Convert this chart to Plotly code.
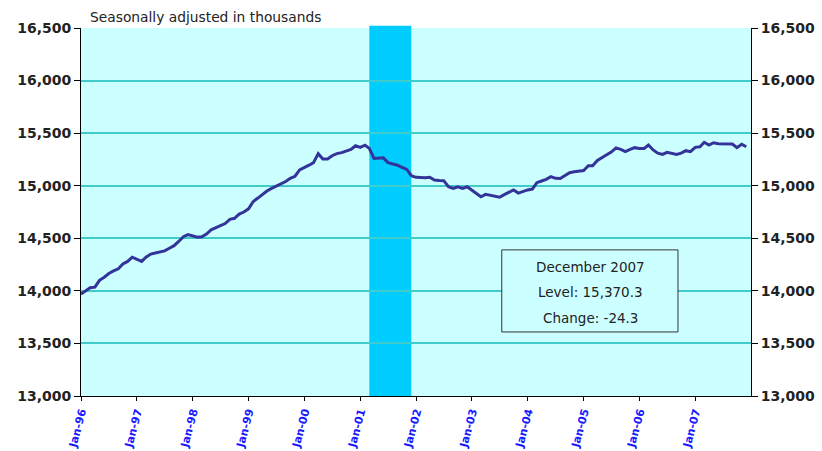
import pandas as pd
import plotly.graph_objects as go

# Retail-trade style employment series, thousands, seasonally adjusted (Jan-96 .. Dec-07)
MONTHS = pd.date_range("1996-01-01", "2007-12-01", freq="MS")
LEVELS = [
    13970, 14000, 14030, 14035, 14100, 14130, 14165, 14190, 14210, 14255, 14280, 14320,  # 1996
    14300, 14280, 14320, 14350, 14360, 14370, 14380, 14405, 14430, 14470, 14515, 14535,  # 1997
    14520, 14510, 14515, 14540, 14580, 14600, 14620, 14640, 14680, 14690, 14730, 14750,  # 1998
    14780, 14850, 14880, 14920, 14950, 14975, 14995, 15015, 15040, 15070, 15090, 15150,  # 1999
    15170, 15195, 15220, 15305, 15255, 15255, 15285, 15305, 15315, 15330, 15345, 15380,  # 2000
    15365, 15385, 15355, 15260, 15265, 15265, 15220, 15210, 15195, 15175, 15155, 15095,  # 2001
    15080, 15078, 15075, 15080, 15055, 15050, 15048, 14990, 14975, 14990, 14975, 14990,  # 2002
    14960, 14925, 14895, 14918, 14910, 14900, 14890, 14915, 14935, 14960, 14930, 14945,  # 2003
    14960, 14968, 15029, 15045, 15061, 15086, 15070, 15068, 15095, 15124, 15133, 15138,  # 2004
    15145, 15190, 15190, 15240, 15270, 15295, 15320, 15360, 15345, 15325, 15345, 15362,  # 2005
    15355, 15355, 15387, 15340, 15310, 15298, 15318, 15310, 15298, 15310, 15333, 15324,  # 2006
    15365, 15371, 15413, 15387, 15409, 15400, 15397, 15397, 15397, 15362, 15394.6, 15370.3,  # 2007
]

RECESSION = ("2001-03-01", "2001-12-01")

X_TICKS = pd.date_range("1996-01-01", "2007-01-01", freq="YS")
X_TICK_TEXT = ["Jan-96", "Jan-97", "Jan-98", "Jan-99", "Jan-00", "Jan-01",
               "Jan-02", "Jan-03", "Jan-04", "Jan-05", "Jan-06", "Jan-07"]
Y_TICKS = [13000, 13500, 14000, 14500, 15000, 15500, 16000, 16500]
Y_TICK_TEXT = ["13,000", "13,500", "14,000", "14,500", "15,000", "15,500", "16,000", "16,500"]

BOX_LINES = ["December 2007", "Level: 15,370.3", "Change: -24.3"]

_BG = "#ccffff"
_GRID = "#40cccc"
_LINE = "#333399"
_BAR = "#00ccff"
_FONT = "DejaVu Sans"

fig = go.Figure()

fig.add_vrect(x0=RECESSION[0], x1=RECESSION[1], y0=0, y1=1.006,
              fillcolor=_BAR, opacity=1, layer="below", line_width=0)

fig.add_trace(go.Scatter(x=MONTHS, y=LEVELS, mode="lines",
                         line=dict(color=_LINE, width=3), showlegend=False))
# invisible copy so the right-hand axis is drawn
fig.add_trace(go.Scatter(x=MONTHS, y=LEVELS, mode="lines", yaxis="y2",
                         line=dict(color="rgba(0,0,0,0)", width=0),
                         hoverinfo="skip", showlegend=False))

yax = dict(range=[13000, 16500], tickvals=Y_TICKS, ticktext=Y_TICK_TEXT,
           showgrid=True, gridcolor=_GRID, gridwidth=1.5, zeroline=False,
           showline=True, linecolor="#000000", linewidth=1, automargin=False,
           ticks="outside", ticklen=6, tickcolor="#000000",
           tickfont=dict(family=_FONT, size=14, color="#222222", weight="bold"))

fig.update_layout(
    width=822, height=451,
    margin=dict(l=81, r=71, t=28, b=55),
    plot_bgcolor=_BG, paper_bgcolor="white",
    xaxis=dict(type="date", range=["1996-01-01", "2008-01-01"],
               tickvals=X_TICKS, ticktext=X_TICK_TEXT, tickangle=-75,
               showgrid=False, zeroline=False, automargin=False,
               showline=True, linecolor="#000000", linewidth=1,
               ticks="outside", ticklen=4, tickcolor="#000000",
               tickfont=dict(family=_FONT, size=11, color="#1a1aff", weight="bold")),
    yaxis=yax,
    yaxis2=dict(yax, overlaying="y", side="right", showgrid=False),
    annotations=[dict(text="Seasonally adjusted in thousands", xref="paper", yref="paper",
                      x=0.01, y=1.0, xanchor="left", yanchor="bottom", yshift=1,
                      showarrow=False, font=dict(family=_FONT, size=13.8, color="#222222"))],
)

fig.add_shape(type="rect", xref="paper", yref="paper", x0=0.628, x1=0.891, y0=0.174, y1=0.397,
              line=dict(color="#333333", width=1), fillcolor=_BG)
for text, yy in zip(BOX_LINES, [0.3505, 0.2826, 0.212]):
    fig.add_annotation(text=text, xref="paper", yref="paper", x=0.760, y=yy,
                       xanchor="center", yanchor="middle", showarrow=False,
                       font=dict(family=_FONT, size=13.5, color="#222222"))

fig.write_html("out.html", config={"displayModeBar": False},
               post_script="document.body.style.margin='0';")
